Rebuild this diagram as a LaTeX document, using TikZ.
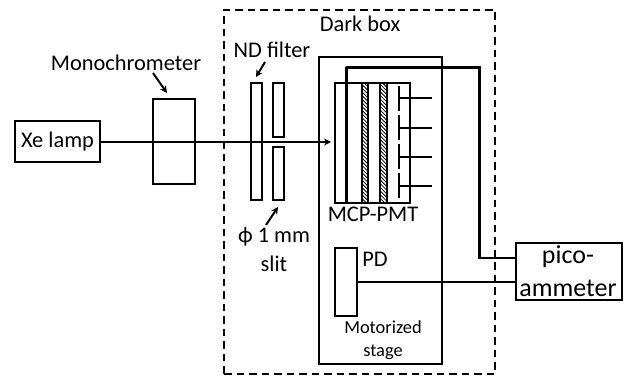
\documentclass[tikz,border=0pt]{standalone}
\usepackage{fontspec}
\usepackage{tikz}
\usetikzlibrary{patterns.meta,arrows.meta}
\setmainfont{Carlito}
\tikzset{
	boxed/.style = {shape=rectangle, draw, line width=1.6pt, inner sep=0pt},
	label/.style = {font=\fontsize{22.4}{26}\selectfont, align=center, inner sep=0pt},
	small/.style = {font=\fontsize{18.4}{23}\selectfont, align=center, inner sep=0pt},
	large/.style = {font=\fontsize{26}{30}\selectfont, align=center, inner sep=0pt},
	wire/.style = {line width=1.8pt},
	lead/.style = {line width=2.3pt},
	pointer/.style = {line width=2pt, -{Stealth[length=7pt,width=7pt]}},
	hatched/.style = {boxed, pattern={Lines[angle=-45,distance=2.6pt,line width=0.8pt]}}
}
\begin{document}
\begin{tikzpicture}[x=1pt,y=-1pt]
	\useasboundingbox (0,0) rectangle (625,377);
	\node[boxed, minimum width=271pt, minimum height=364pt, dashed, dash pattern=on 7.5pt off 5pt] (darkbox) at (359.5,192) {};
	\node[boxed, minimum width=123pt, minimum height=307pt] (stagebox) at (380.5,210.5) {};
	\node[boxed, minimum width=85pt, minimum height=41pt, fill=white] (lamp) at (57.5,141.5) {};
	\node[label] at (lamp.center) {Xe lamp};
	\node[boxed, minimum width=42pt, minimum height=85pt] (mono) at (174,141.5) {};
	\node[boxed, minimum width=11pt, minimum height=117pt] (filter) at (256.5,141.5) {};
	\node[boxed, minimum width=11pt, minimum height=54pt] (slittop) at (278.5,110) {};
	\node[boxed, minimum width=11pt, minimum height=53pt] (slitbot) at (278.5,173.5) {};
	\node[boxed, minimum width=75pt, minimum height=120pt] (mcp) at (372.5,143) {};
	\node[hatched, minimum width=6pt, minimum height=120pt] (plateA) at (365,143) {};
	\node[hatched, minimum width=7pt, minimum height=120pt] (plateB) at (383.5,143) {};
	\node[boxed, minimum width=22pt, minimum height=68pt] (pd) at (346,282) {};
	\node[boxed, minimum width=106pt, minimum height=57pt] (meter) at (569,271.5) {};
	% labels
	\node[label] (monotext) at (126,63) {Monochrometer};
	\node[label] (darktext) at (360,24) {Dark box};
	\node[label] (ndtext) at (272,50) {ND filter};
	\node[label] (phitext) at (274,237) {ϕ 1 mm};
	\node[label] (slittext) at (274,264) {slit};
	\node[label] (mcptext) at (373,214) {MCP-PMT};
	\node[label] (pdtext) at (375,259) {PD};
	\node[small] (stagetext) at (383,340) {Motorized\\stage};
	\node[large] at (568,257) {pico-};
	\node[large] at (568,288) {ammeter};
	% free ends
	\coordinate (beam) at (331,142);
	\coordinate (leadtop) at (346,67.5);
	\coordinate (leadcorner) at (479.5,67.5);
	\coordinate (leadend) at (479.5,258);
	\coordinate (monotip) at (167,93);
	\coordinate (monotail) at (153,73);
	\coordinate (ndtip) at (256,77);
	\coordinate (ndtail) at (265,62);
	\coordinate (slittip) at (278,207);
	\coordinate (slittail) at (266,225);
	\coordinate (dashtop) at (399,86);
	\coordinate (dashbot) at (399,198);
	\draw[pointer] (lamp.east |- beam) -- (beam);
	\draw[pointer] (monotail) -- (monotip);
	\draw[pointer] (ndtail) -- (ndtip);
	\draw[pointer] (slittail) -- (slittip);
	\draw[lead] (leadtop) -- (leadcorner) -- (leadend) -- (meter.west |- leadend);
	\draw[lead, line width=3pt] (leadtop) -- (346,203);
	\draw[lead] (pd.east) -- (meter.west |- pd.east);
	\draw[wire, dash pattern=on 25pt off 4pt] (dashtop) -- (dashbot);
	\foreach \y in {98,128,157,186}
		\draw[wire] (399,\y) -- (432,\y);
\end{tikzpicture}
\end{document}
